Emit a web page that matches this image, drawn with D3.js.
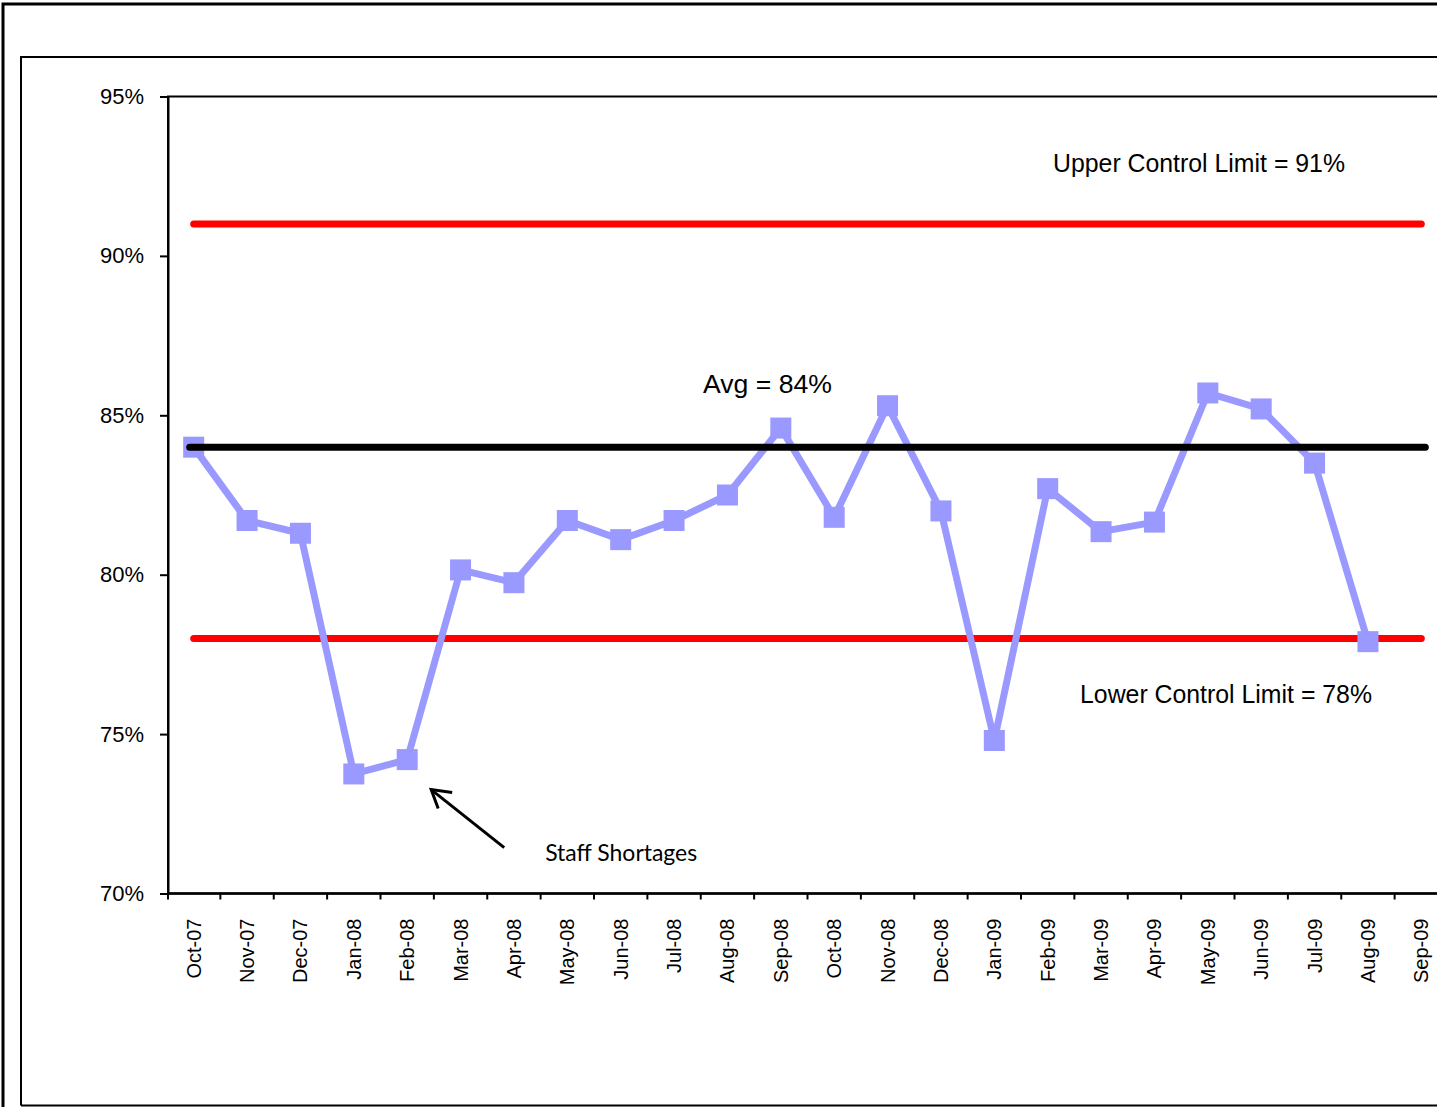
<!DOCTYPE html>
<html>
<head>
<meta charset="utf-8">
<script src="https://cdn.jsdelivr.net/npm/d3@7"></script>
<style>
  html, body { margin: 0; padding: 0; background: #fff; overflow: hidden; }
  svg { display: block; font-family: "Liberation Sans", Arial, sans-serif; }
</style>
</head>
<body>
<svg id="chart" width="1437" height="1107"></svg>
<script>
// Monthly compliance rate (%) with process control limits
const months = ["Oct-07","Nov-07","Dec-07","Jan-08","Feb-08","Mar-08","Apr-08","May-08",
  "Jun-08","Jul-08","Aug-08","Sep-08","Oct-08","Nov-08","Dec-08","Jan-09","Feb-09",
  "Mar-09","Apr-09","May-09","Jun-09","Jul-09","Aug-09","Sep-09"];
const compliance = [84.0, 81.7, 81.3, 73.75, 74.2, 80.15, 79.75, 81.7, 81.1, 81.7, 82.5,
  84.6, 81.8, 85.3, 82.0, 74.8, 82.7, 81.35, 81.65, 85.7, 85.2, 83.5, 77.9, null];
const yTicks = [70, 75, 80, 85, 90, 95];
const average = 84;
const upperLimit = 91;
const lowerLimit = 78;

const svg = d3.select("#chart");

// outer and inner frames
svg.append("path").attr("d", "M3,1107 V4 H1437")
  .attr("fill", "none").attr("stroke", "#000").attr("stroke-width", 3);
svg.append("path").attr("d", "M21,1105.5 H1437 M21,1105.5 V57 H1437")
  .attr("fill", "none").attr("stroke", "#000").attr("stroke-width", 2);

const plot = { left: 168, top: 96.5, right: 1448, bottom: 893.5 };

const x = d3.scaleBand().domain(months).range([167, 1448]).padding(0);
const cx = m => x(m) + x.bandwidth() / 2;
const y = d3.scaleLinear().domain([70, 95]).range([plot.bottom, plot.top]);

// plot area border
svg.append("rect")
  .attr("x", plot.left).attr("y", plot.top)
  .attr("width", plot.right - plot.left).attr("height", plot.bottom - plot.top)
  .attr("fill", "none").attr("stroke", "#000").attr("stroke-width", 2);

// y axis
const yAxis = svg.append("g").attr("transform", `translate(${plot.left},0)`)
  .call(d3.axisLeft(y).tickValues(yTicks).tickSize(8).tickPadding(16)
    .tickFormat(d => d + "%"));
yAxis.select(".domain").attr("stroke-width", 2);
yAxis.selectAll(".tick line").attr("stroke-width", 2);
yAxis.selectAll("text").attr("font-size", 22).attr("fill", "#000")
  .attr("font-family", "Liberation Sans, Arial, sans-serif");

// x axis with rotated month labels
const xAxis = svg.append("g").attr("transform", `translate(0,${plot.bottom})`)
  .call(d3.axisBottom(x).tickSize(0).tickPadding(0));
xAxis.select(".domain").remove();
xAxis.selectAll("text")
  .attr("font-size", 20).attr("fill", "#000")
  .attr("font-family", "Liberation Sans, Arial, sans-serif")
  .attr("text-anchor", "end")
  .attr("dy", null)
  .attr("transform", "translate(7,25) rotate(-90)");
// category boundary ticks
const bounds = d3.range(1, months.length + 1).map(i => x.range()[0] + i * x.step());
svg.append("g").selectAll("line").data([plot.left].concat(bounds)).join("line")
  .attr("x1", d => d).attr("x2", d => d)
  .attr("y1", plot.bottom).attr("y2", plot.bottom + 6)
  .attr("stroke", "#000").attr("stroke-width", 2);
svg.append("line").attr("x1", plot.left).attr("x2", plot.right)
  .attr("y1", plot.bottom).attr("y2", plot.bottom)
  .attr("stroke", "#000").attr("stroke-width", 2.5);

// control limits
const first = cx(months[0]), last = cx(months[months.length - 1]);
[upperLimit, lowerLimit].forEach(v => {
  svg.append("line")
    .attr("x1", first).attr("x2", last)
    .attr("y1", y(v)).attr("y2", y(v))
    .attr("stroke", "#FF0000").attr("stroke-width", 7).attr("stroke-linecap", "round");
});

// compliance series
const pts = months.map((m, i) => ({ m, v: compliance[i] })).filter(d => d.v != null);
const line = d3.line().x(d => cx(d.m)).y(d => y(d.v));
svg.append("path").datum(pts).attr("d", line)
  .attr("fill", "none").attr("stroke", "#9999FF").attr("stroke-width", 7)
  .attr("stroke-linejoin", "round");
const ms = 21;
svg.append("g").selectAll("rect").data(pts).join("rect")
  .attr("x", d => cx(d.m) - ms / 2).attr("y", d => y(d.v) - ms / 2)
  .attr("width", ms).attr("height", ms).attr("fill", "#9999FF");

// average line
svg.append("line")
  .attr("x1", first - 4).attr("x2", last + 4)
  .attr("y1", y(average)).attr("y2", y(average))
  .attr("stroke", "#000").attr("stroke-width", 7).attr("stroke-linecap", "round");

// labels
svg.append("text").attr("x", 703).attr("y", y(average) - 54)
  .attr("font-size", 26).attr("textLength", 129).attr("lengthAdjust", "spacingAndGlyphs")
  .text("Avg = " + average + "%");
svg.append("text").attr("x", 1053).attr("y", y(upperLimit) - 52)
  .attr("font-size", 26).attr("textLength", 292).attr("lengthAdjust", "spacingAndGlyphs")
  .text("Upper Control Limit = " + upperLimit + "%");
svg.append("text").attr("x", 1080).attr("y", y(lowerLimit) + 65)
  .attr("font-size", 26).attr("textLength", 292).attr("lengthAdjust", "spacingAndGlyphs")
  .text("Lower Control Limit = " + lowerLimit + "%");

// annotation: staff shortages
const fx = cx("Feb-08"), fy = y(compliance[months.indexOf("Feb-08")]);
const head = [fx + 24, fy + 30], tail = [fx + 97, fy + 88];
svg.append("line").attr("x1", tail[0]).attr("y1", tail[1]).attr("x2", head[0]).attr("y2", head[1])
  .attr("stroke", "#000").attr("stroke-width", 3);
svg.append("path")
  .attr("d", `M${head[0] + 21},${head[1] + 3} L${head[0]},${head[1]} L${head[0] + 7},${head[1] + 19}`)
  .attr("fill", "none").attr("stroke", "#000").attr("stroke-width", 3)
  .attr("stroke-linejoin", "miter");
svg.append("text").attr("x", fx + 138).attr("y", fy + 101)
  .attr("font-family", "Lato, 'Open Sans', sans-serif").attr("font-size", 23)
  .attr("textLength", 152).attr("lengthAdjust", "spacingAndGlyphs")
  .text("Staff Shortages");
</script>
</body>
</html>
